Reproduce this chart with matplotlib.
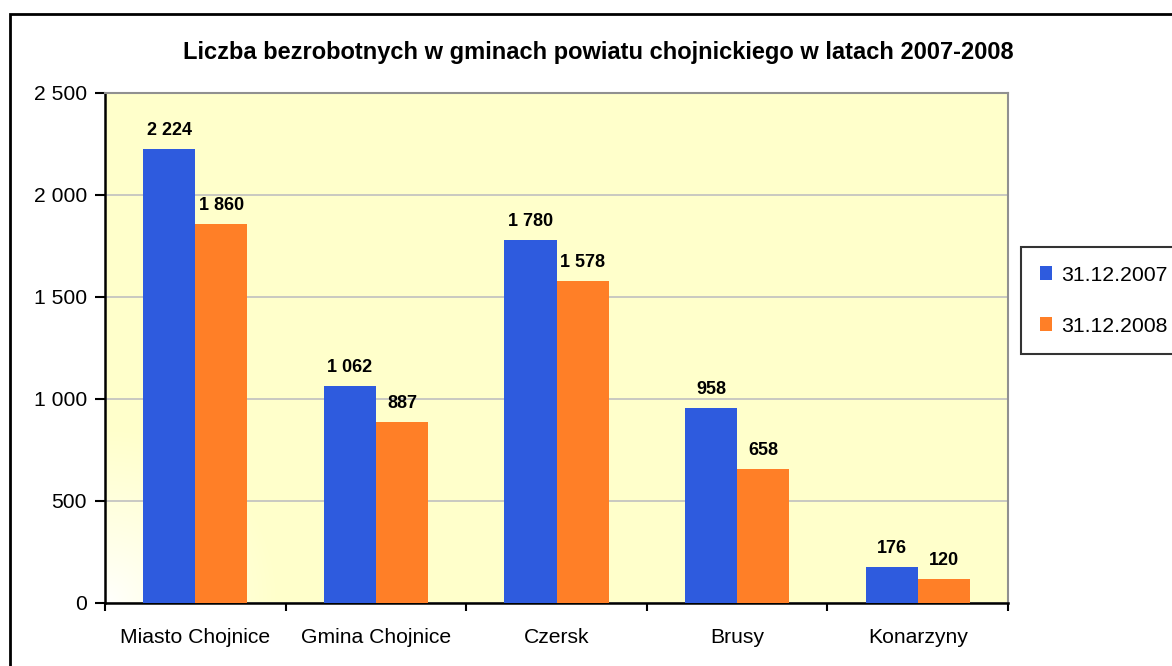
import numpy as np
import matplotlib
matplotlib.use("Agg")
import matplotlib.pyplot as plt
from matplotlib.ticker import FuncFormatter, FixedLocator, MultipleLocator
from matplotlib.patches import Rectangle

categories = ["Miasto Chojnice", "Gmina Chojnice", "Czersk", "Brusy", "Konarzyny"]
series_names = ["31.12.2007", "31.12.2008"]
values_2007 = [2224, 1062, 1780, 958, 176]
values_2008 = [1860, 887, 1578, 658, 120]
title = "Liczba bezrobotnych w gminach powiatu chojnickiego w latach 2007-2008"

plt.rcParams['font.family'] = ['Liberation Sans', 'DejaVu Sans']

W, H = 1172, 666
fig = plt.figure(figsize=(W / 100, H / 100), dpi=100)
fig.patch.set_facecolor("white")

L, R, T, B = 105, 1008, 93, 603
ax = fig.add_axes([L / W, 1 - B / H, (R - L) / W, (B - T) / H])

# gradient background (white at bottom-left to light yellow)
pw, ph = R - L, B - T
xx, yy = np.meshgrid(np.arange(pw), np.arange(ph)[::-1])
d = np.sqrt(xx.astype(float) ** 2 + yy.astype(float) ** 2)
t = np.clip(d / 170.0, 0, 1) ** 0.8
yellow = np.array([255, 255, 204]) / 255.0
white = np.array([1.0, 1.0, 1.0])
img = white[None, None, :] * (1 - t[..., None]) + yellow[None, None, :] * t[..., None]
ax.imshow(img, extent=(-0.5, 4.5, 0, 2500), aspect="auto", zorder=0, origin="upper")

x = np.arange(len(categories))
bw = 0.288
blue = "#2E5BDE"
orange = "#FF7F27"
b1 = ax.bar(x - bw / 2, values_2007, bw, color=blue, label=series_names[0], zorder=3)
b2 = ax.bar(x + bw / 2, values_2008, bw, color=orange, label=series_names[1], zorder=3)

def fmt(v, pos=None):
    s = f"{int(v):,}".replace(",", " ")
    return s

for bars, vals in ((b1, values_2007), (b2, values_2008)):
    for rect, v in zip(bars, vals):
        ax.annotate(fmt(v), (rect.get_x() + rect.get_width() / 2, v),
                    xytext=(0, 10), textcoords="offset points",
                    ha="center", va="baseline", fontsize=13, fontweight="bold",
                    color="black", zorder=5)

ax.set_xlim(-0.5, 4.5)
ax.set_ylim(0, 2500)
ax.yaxis.set_major_locator(MultipleLocator(500))
ax.yaxis.set_major_formatter(FuncFormatter(fmt))
ax.grid(axis="y", color="#C0C0C0", linewidth=1.2, zorder=1)
ax.set_axisbelow(True)

ax.xaxis.set_major_locator(FixedLocator([-0.5, 0.5, 1.5, 2.5, 3.5, 4.5]))
ax.xaxis.set_major_formatter(FuncFormatter(lambda v, p: ""))
ax.xaxis.set_minor_locator(FixedLocator(list(x)))
ax.set_xticklabels(categories, minor=True)
ax.tick_params(axis="x", which="minor", length=0, pad=18, labelsize=15.2)
ax.tick_params(axis="x", which="major", length=6, width=1.5, direction="out")
ax.tick_params(axis="y", length=7, width=1.5, direction="out", pad=6, labelsize=15.2)

for s in ("left", "bottom"):
    ax.spines[s].set_color("black")
    ax.spines[s].set_linewidth(1.8)
for s in ("top", "right"):
    ax.spines[s].set_color("#909090")
    ax.spines[s].set_linewidth(1.5)

fig.text(598 / W, 1 - 53 / H, title, ha="center", va="center",
         fontsize=17, fontweight="bold")

# outer chart border
fig.patches.append(Rectangle((10 / W, -0.2), 1.5, 1.2 - 14 / H, transform=fig.transFigure,
                             fill=False, edgecolor="black", linewidth=2, zorder=10))

leg = fig.legend(handles=[b1, b2], labels=series_names,
                 loc="upper left", bbox_to_anchor=(1021 / W, 1 - 247 / H),
                 frameon=True, fancybox=False, edgecolor="black",
                 fontsize=15.3, handlelength=0.6, handleheight=0.6,
                 handletextpad=0.4, labelspacing=1.5, borderpad=0.88,
                 borderaxespad=0)
leg.get_frame().set_linewidth(1.5)

fig.savefig("out.png", dpi=100, facecolor="white")
